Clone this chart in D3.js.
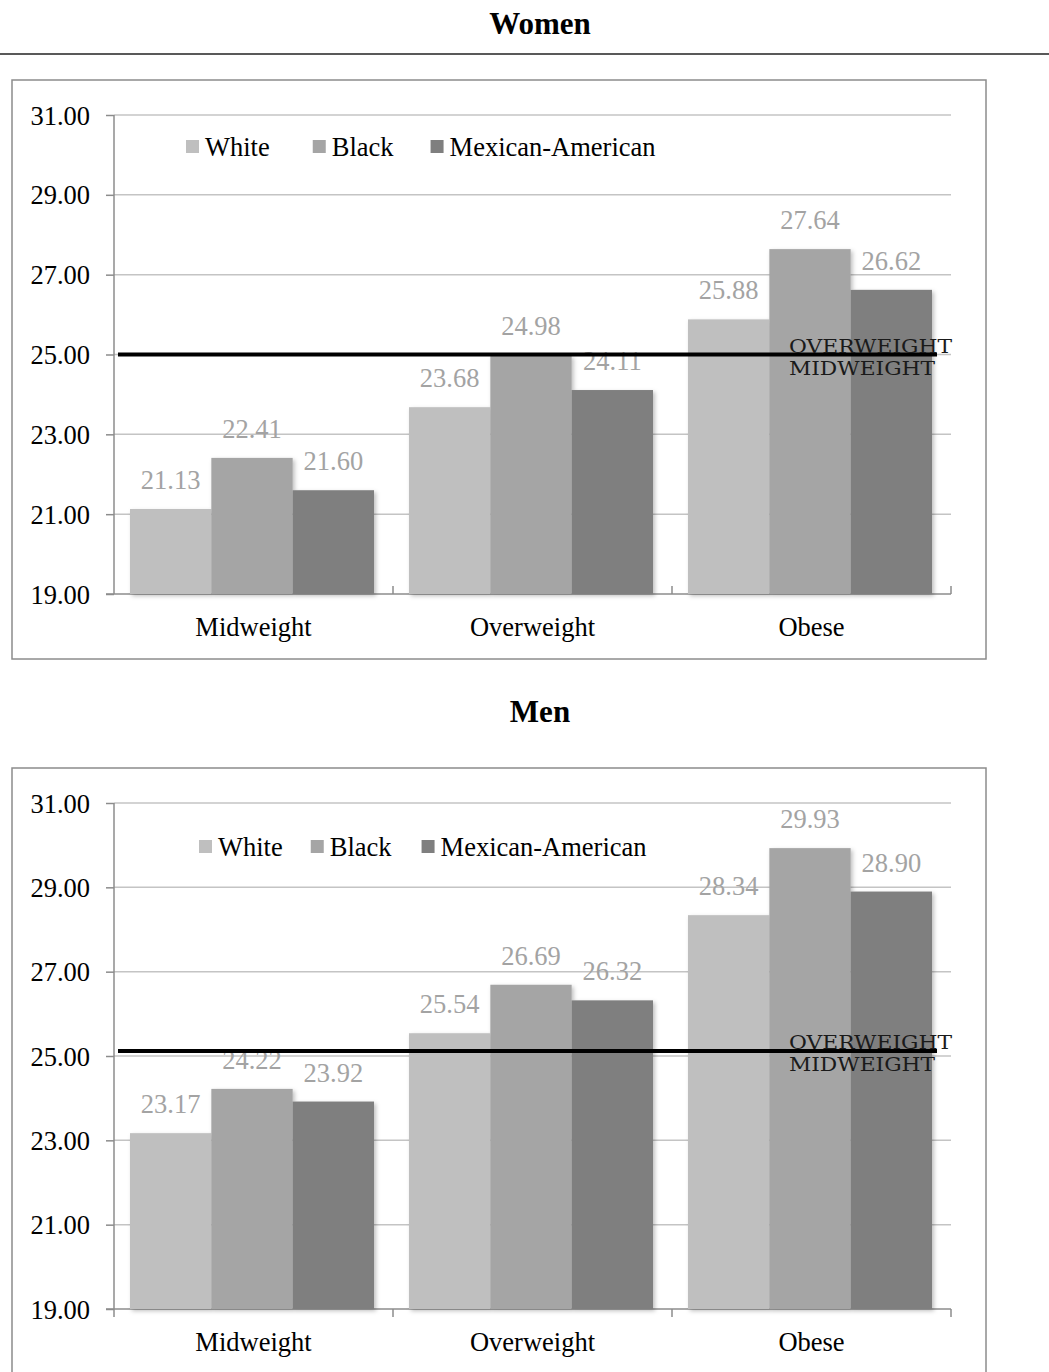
<!DOCTYPE html>
<html>
<head>
<meta charset="utf-8">
<script src="https://cdn.jsdelivr.net/npm/d3@7"></script>
<style>
  html, body { margin: 0; padding: 0; background: #fff; }
  svg { display: block; font-family: "Liberation Serif", "Times New Roman", serif; }
</style>
</head>
<body>
<svg id="chart" width="1049" height="1372"></svg>
<script>
// Mean BMI by weight category and race/ethnicity
const categories = ["Midweight", "Overweight", "Obese"];
const seriesNames = ["White", "Black", "Mexican-American"];
const seriesColors = ["#bfbfbf", "#a5a5a5", "#7f7f7f"];
const yTicks = [19, 21, 23, 25, 27, 29, 31];

const womenWhite = [21.13, 23.68, 25.88];
const womenBlack = [22.41, 24.98, 27.64];
const womenMexican = [21.60, 24.11, 26.62];

const menWhite = [23.17, 25.54, 28.34];
const menBlack = [24.22, 26.69, 29.93];
const menMexican = [23.92, 26.32, 28.90];

// Reference line separating midweight from overweight
const thresholdWomen = 25.0;
const thresholdMen = 25.12;
const thresholdLabels = ["OVERWEIGHT", "MIDWEIGHT"];

const panels = [
  {
    title: "Women", titleY: 34,
    frame: { x: 12, y: 80, w: 974, h: 579 },
    plot: { top: 115, bottom: 594 },
    values: [womenWhite, womenBlack, womenMexican],
    threshold: thresholdWomen,
    legend: { x: 186, y: 140, gaps: [43, 37] },
    catLabelY: 636,
    catTicksUp: true
  },
  {
    title: "Men", titleY: 722,
    frame: { x: 12, y: 768, w: 974, h: 640 },
    plot: { top: 803, bottom: 1309 },
    values: [menWhite, menBlack, menMexican],
    threshold: thresholdMen,
    legend: { x: 199, y: 840, gaps: [28, 30] },
    catLabelY: 1351,
    catTicksUp: false
  }
];

const svg = d3.select("#chart");
const left = 114, right = 951;

const defs = svg.append("defs");
const shadow = defs.append("filter").attr("id", "barShadow")
  .attr("x", "-10%").attr("y", "-10%").attr("width", "130%").attr("height", "130%");
shadow.append("feDropShadow").attr("dx", 2).attr("dy", 2)
  .attr("stdDeviation", 2).attr("flood-color", "#000").attr("flood-opacity", 0.25);

// Rule under the first heading
svg.append("line").attr("x1", 0).attr("x2", 1049).attr("y1", 54).attr("y2", 54)
  .attr("stroke", "#222").attr("stroke-width", 1.5);

const x = d3.scaleBand().domain(categories).range([left, right]).padding(0);
const xSub = d3.scaleBand().domain(seriesNames).range([16, x.bandwidth() - 19]).padding(0);

panels.forEach(p => {
  const g = svg.append("g");

  g.append("text").attr("x", 540).attr("y", p.titleY)
    .attr("text-anchor", "middle").attr("font-weight", "bold")
    .attr("font-size", 31).attr("fill", "#000").text(p.title);

  g.append("rect").attr("x", p.frame.x).attr("y", p.frame.y)
    .attr("width", p.frame.w).attr("height", p.frame.h)
    .attr("fill", "#fff").attr("stroke", "#8c8c8c").attr("stroke-width", 1.5);

  const y = d3.scaleLinear().domain([19, 31]).range([p.plot.bottom, p.plot.top]);

  // Horizontal gridlines
  g.append("g").selectAll("line").data(yTicks.slice(1)).join("line")
    .attr("x1", left).attr("x2", right)
    .attr("y1", d => y(d)).attr("y2", d => y(d))
    .attr("stroke", "#c4c4c4").attr("stroke-width", 1.5);

  // Value axis
  const yAxis = g.append("g").attr("transform", `translate(${left},0)`)
    .call(d3.axisLeft(y).tickValues(yTicks).tickFormat(d3.format(".2f")).tickSize(8).tickPadding(16));
  yAxis.attr("font-family", null).attr("font-size", null);
  yAxis.select(".domain").attr("stroke", "#8c8c8c").attr("stroke-width", 1.5)
    .attr("d", `M0,${p.plot.top}V${p.plot.bottom + (p.catTicksUp ? 0 : 8)}`);
  yAxis.selectAll(".tick line").attr("stroke", "#8c8c8c").attr("stroke-width", 1.5);
  yAxis.selectAll(".tick text").attr("font-size", 26.5).attr("fill", "#000")
    .attr("dy", "0.34em");

  // Category axis
  g.append("line").attr("x1", left - 8).attr("x2", right)
    .attr("y1", y(19)).attr("y2", y(19))
    .attr("stroke", "#8c8c8c").attr("stroke-width", 1.5);
  g.append("g").selectAll("line").data(categories).join("line")
    .attr("x1", d => x(d) + x.bandwidth()).attr("x2", d => x(d) + x.bandwidth())
    .attr("y1", y(19)).attr("y2", y(19) + (p.catTicksUp ? -8 : 8))
    .attr("stroke", "#8c8c8c").attr("stroke-width", 1.5);
  g.append("g").selectAll("text").data(categories).join("text")
    .attr("x", d => x(d) + x.bandwidth() / 2).attr("y", p.catLabelY)
    .attr("text-anchor", "middle").attr("font-size", 26.5).attr("fill", "#000")
    .text(d => d);

  // Bars
  const rows = [];
  categories.forEach((c, ci) => seriesNames.forEach((s, si) =>
    rows.push({ cat: c, series: s, si, value: p.values[si][ci] })));

  g.append("g").attr("filter", "url(#barShadow)").selectAll("rect").data(rows).join("rect")
    .attr("x", d => x(d.cat) + xSub(d.series))
    .attr("width", xSub.bandwidth())
    .attr("y", d => y(d.value))
    .attr("height", d => y(19) - y(d.value))
    .attr("fill", d => seriesColors[d.si]);

  // Value labels
  g.append("g").selectAll("text").data(rows).join("text")
    .attr("x", d => x(d.cat) + xSub(d.series) + xSub.bandwidth() / 2)
    .attr("y", d => y(d.value) - 20)
    .attr("text-anchor", "middle").attr("font-size", 26.5).attr("fill", "#a3a3a3")
    .text(d => d.value.toFixed(2));

  // Legend
  let lx = p.legend.x;
  seriesNames.forEach((s, i) => {
    g.append("rect").attr("x", lx).attr("y", p.legend.y).attr("width", 13).attr("height", 13)
      .attr("fill", seriesColors[i]);
    const t = g.append("text").attr("x", lx + 19).attr("y", p.legend.y + 16)
      .attr("font-size", 26.5).attr("fill", "#000").text(s);
    const w = t.node().getComputedTextLength();
    lx = lx + 19 + w + (p.legend.gaps[i] || 0);
  });

  // Threshold line with its labels
  g.append("line").attr("x1", 118).attr("x2", 937)
    .attr("y1", y(p.threshold)).attr("y2", y(p.threshold))
    .attr("stroke", "#000").attr("stroke-width", 4);
  const lens = [163, 146];
  thresholdLabels.forEach((t, i) => {
    g.append("text").attr("x", 789).attr("y", y(p.threshold) - 2 + i * 22)
      .style("font-family", "'DejaVu Serif', serif").style("font-size", "18.5px")
      .attr("textLength", lens[i]).attr("lengthAdjust", "spacingAndGlyphs")
      .attr("fill", "#1a1a1a").text(t);
  });
});
</script>
</body>
</html>
